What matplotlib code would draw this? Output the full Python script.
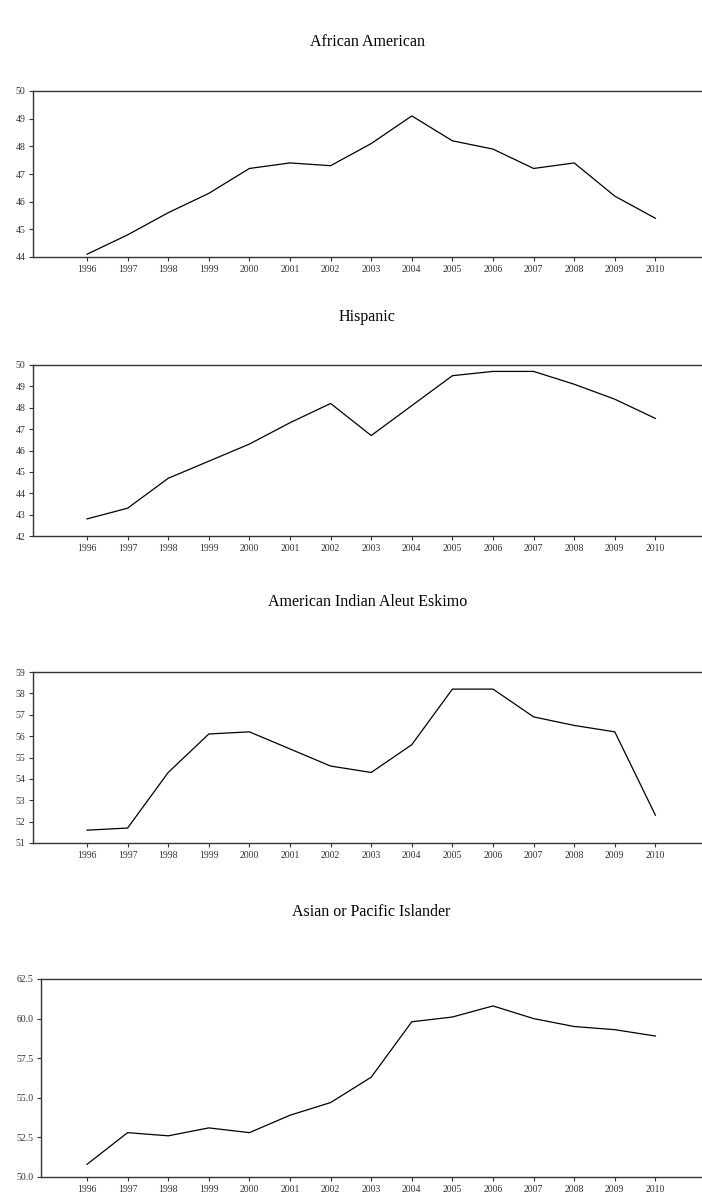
import matplotlib.pyplot as plt

plt.rcParams['font.family'] = ['Liberation Serif', 'DejaVu Serif']

years = list(range(1996, 2011))

african_american = [44.1, 44.8, 45.6, 46.3, 47.2, 47.4, 47.3, 48.1, 49.1,
                    48.2, 47.9, 47.2, 47.4, 46.2, 45.4]
hispanic = [42.8, 43.3, 44.7, 45.5, 46.3, 47.3, 48.2, 46.7, 48.1,
            49.5, 49.7, 49.7, 49.1, 48.4, 47.5]
american_indian = [51.6, 51.7, 54.3, 56.1, 56.2, 55.4, 54.6, 54.3, 55.6,
                   58.2, 58.2, 56.9, 56.5, 56.2, 52.3]
asian_pacific = [50.8, 52.8, 52.6, 53.1, 52.8, 53.9, 54.7, 56.3, 59.8,
                 60.1, 60.8, 60.0, 59.5, 59.3, 58.9]

titles = ["African American", "Hispanic",
          "American Indian Aleut Eskimo", "Asian or Pacific Islander"]
series = [african_american, hispanic, american_indian, asian_pacific]
ylims = [(44, 50), (42, 50), (51, 59), (50, 62.5)]
yticks = [list(range(44, 51)), list(range(42, 51)), list(range(51, 60)),
          [50.0, 52.5, 55.0, 57.5, 60.0, 62.5]]
yfmt = ["{:.0f}", "{:.0f}", "{:.0f}", "{:.1f}"]

# panel boxes in pixels: left, top, bottom ; title centre y
H = 1194.0
W = 702.0
boxes = [(33, 91, 257, 42), (33, 365, 536, 317),
         (33, 672, 843, 602), (41, 979, 1177, 912)]

fig = plt.figure(figsize=(7.02, 11.94), dpi=100)

for i in range(4):
    left, top, bottom, ty = boxes[i]
    ax = fig.add_axes([left / W, 1 - bottom / H, 1 - left / W, (bottom - top) / H])
    ax.plot(years, series[i], color='black', linewidth=0.9)
    ax.set_ylim(*ylims[i])
    ax.set_yticks(yticks[i])
    ax.set_yticklabels([yfmt[i].format(v) for v in yticks[i]])
    ax.set_xticks(years)
    ax.set_xticklabels([str(y) for y in years])
    # x range: ticks 1996 at px 87, spacing ~40.6px
    x0 = 1996 - (87 - left) / 40.6
    ax.set_xlim(x0, x0 + (W - left) / 40.6)
    ax.spines['right'].set_visible(False)
    for s in ['left', 'top', 'bottom']:
        ax.spines[s].set_color('#333333')
        ax.spines[s].set_linewidth(1.0)
    ax.tick_params(labelsize=7, colors='#333333', length=3, width=0.8, pad=2.5)
    fig.text((left + W) / 2 / W, 1 - ty / H, titles[i], ha='center', va='center',
             fontsize=11.5, color='black')

fig.savefig('out.png', dpi=100)
